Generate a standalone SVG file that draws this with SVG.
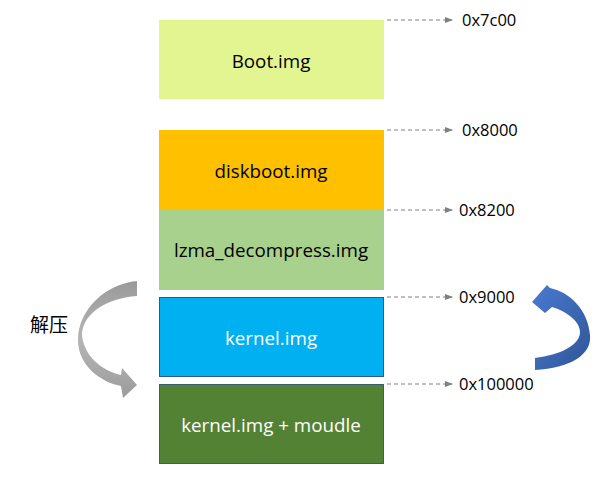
<svg xmlns="http://www.w3.org/2000/svg" width="604" height="478" viewBox="0 0 604 478">
<defs>
<style>
.lbl{font-family:"Open Sans","Noto Sans",sans-serif;font-size:18.8px;text-anchor:middle;dominant-baseline:central}
.addr{font-family:"Open Sans","Noto Sans",sans-serif;font-size:16.5px;fill:#000}
.dash{stroke:#808080;stroke-width:1;stroke-dasharray:4,3;fill:none;marker-end:url(#ah)}
</style>
<marker id="ah" markerWidth="8" markerHeight="6" refX="7" refY="3" orient="auto" markerUnits="userSpaceOnUse">
<path d="M0,0 L8,3 L0,6 Z" fill="#808080"/>
</marker>
<linearGradient id="gg" x1="0" y1="0" x2="0" y2="1">
<stop offset="0" stop-color="#9a9a9a"/>
<stop offset="0.5" stop-color="#b5b5b5"/>
<stop offset="1" stop-color="#9c9c9c"/>
</linearGradient>
<linearGradient id="bg" x1="0" y1="0" x2="1" y2="1">
<stop offset="0" stop-color="#4a7bd0"/>
<stop offset="1" stop-color="#2f5597"/>
</linearGradient>
</defs>
<g id="boot"><rect x="159" y="20" width="225" height="79" fill="#e3f590"/><text class="lbl" x="271" y="61">Boot.img</text></g>
<g id="diskboot"><rect x="159" y="130" width="225" height="80" fill="#ffc000"/><text class="lbl" x="271" y="171">diskboot.img</text></g>
<g id="lzma"><rect x="159" y="210" width="225" height="80" fill="#a9d18e"/><text class="lbl" x="271" y="250">lzma_decompress.img</text></g>
<g id="kernel"><rect x="159.5" y="297.5" width="224" height="79" fill="#00b0f0" stroke="#2f5597" stroke-width="1"/><text class="lbl" x="271" y="338" fill="#fff">kernel.img</text></g>
<g id="kernelmod"><rect x="159.5" y="384.5" width="224" height="79" fill="#548235" stroke="#3b5d70" stroke-width="1"/><text class="lbl" x="271" y="425" fill="#fff">kernel.img + moudle</text></g>
<g id="connectors">
<line class="dash" x1="387" y1="20" x2="452" y2="20"/>
<line class="dash" x1="387" y1="130" x2="452" y2="130"/>
<line class="dash" x1="387" y1="210" x2="452" y2="210"/>
<line class="dash" x1="387" y1="297" x2="452" y2="297"/>
<line class="dash" x1="387" y1="384" x2="452" y2="384"/>
<path d="M137,281 C105,284 78,310 78,340 C78,365 100,382 121,386 L123,398 L137,385 L122,368 L121,375 C100,370 84,355 82,335 C82,315 105,298 137,296 Z" fill="url(#gg)"/>
<path d="M535,370 C570,368 592,355 590,335 C588,310 570,292 550,288 L547,285 L532,302 L545,313 L552,307 C568,312 580,322 580,332 C580,345 560,355 535,358 Z" fill="url(#bg)"/>
</g>
<g id="labels">
<text class="addr" x="462" y="26">0x7c00</text>
<text class="addr" x="462" y="136">0x8000</text>
<text class="addr" x="459" y="216">0x8200</text>
<text class="addr" x="459" y="303">0x9000</text>
<text class="addr" x="459" y="390">0x100000</text>
<text x="30" y="332" style="font-family:'Noto Sans CJK SC',sans-serif;font-size:19px">解压</text>
</g>
</svg>
